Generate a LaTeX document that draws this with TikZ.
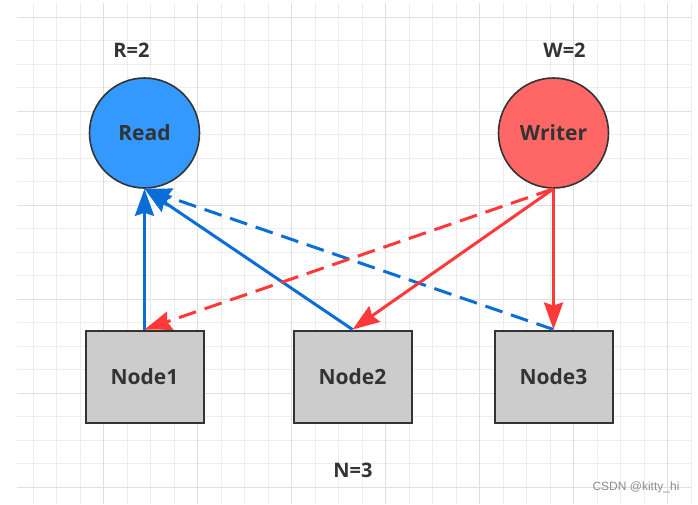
\documentclass[tikz,border=0pt]{standalone}
\usepackage{fontspec}
\setmainfont{Open Sans}
\newfontfamily\markfont{Liberation Sans}
\usetikzlibrary{arrows.meta,positioning}
\definecolor{readblue}{HTML}{3399FF}
\definecolor{lineblue}{HTML}{0A6ED6}
\definecolor{writered}{HTML}{FF6666}
\definecolor{linered}{HTML}{FF3838}
\definecolor{boxgray}{HTML}{CCCCCC}
\definecolor{ink}{HTML}{333333}
\definecolor{gridminor}{HTML}{EDEDED}
\definecolor{gridmajor}{HTML}{DFDFDF}

\begin{document}
\begin{tikzpicture}[
  x=1pt,y=-1pt,
  role/.style={draw=ink,circle,line width=1.6pt,minimum size=110pt,inner sep=0pt,
    text=ink,font=\fontsize{21}{25}\selectfont\bfseries},
  store/.style={draw=ink,fill=boxgray,line width=2pt,minimum width=118pt,minimum height=92pt,
    text=ink,font=\fontsize{21}{25}\selectfont\bfseries},
  tag/.style={text=ink,font=\fontsize{20}{24}\selectfont\bfseries},
  link/.style={line width=3pt,-{Stealth[length=27pt,width=19pt,inset=3pt]}},
  gap/.style={dash pattern=on 18pt off 9pt}
]
  \useasboundingbox (0,0) rectangle (698,504);

  % background grid
  \foreach \i in {0,...,28}
    \draw[gridminor,line width=1pt] (33+23.5*\i,3) -- (33+23.5*\i,504);
  \foreach \j in {0,...,20}
    \draw[gridminor,line width=1pt] (17,17+23.5*\j) -- (691,17+23.5*\j);
  \foreach \i in {3,7,...,27}
    \draw[gridmajor,line width=1pt] (33+23.5*\i,3) -- (33+23.5*\i,504);
  \foreach \j in {0,4,...,20}
    \draw[gridmajor,line width=1pt] (17,17+23.5*\j) -- (691,17+23.5*\j);

  \node[role,fill=readblue] (read) at (144.5,133) {Read};
  \node[role,fill=writered] (writer) at (553.5,133) {Writer};
  \node[tag,above=16pt of read,xshift=-13pt] (rq) {R=2};
  \node[tag,above=16pt of writer,xshift=11pt] (wq) {W=2};

  \node[store] (n1) at (144.5,376.5) {Node1};
  \node[store] (n2) at (352.5,376.5) {Node2};
  \node[store] (n3) at (553.5,376.5) {Node3};
  \node[tag] (nq) at (353,470) {N=3};

  \draw[link,lineblue] (n1.north) -- (read.south);
  \draw[link,lineblue] (n2.north) -- (read.south);
  \draw[link,lineblue,gap] (n3.north) -- (read.south);

  \draw[link,linered,gap] (writer.south) -- (n1.north);
  \draw[link,linered] (writer.south) -- (n2.north);
  \draw[link,linered] (writer.south) -- (n3.north);

  \node[text=black!45,font=\markfont\fontsize{12}{14}\selectfont] (mark) at (636,487) {CSDN @kitty\_hi};
\end{tikzpicture}
\end{document}
